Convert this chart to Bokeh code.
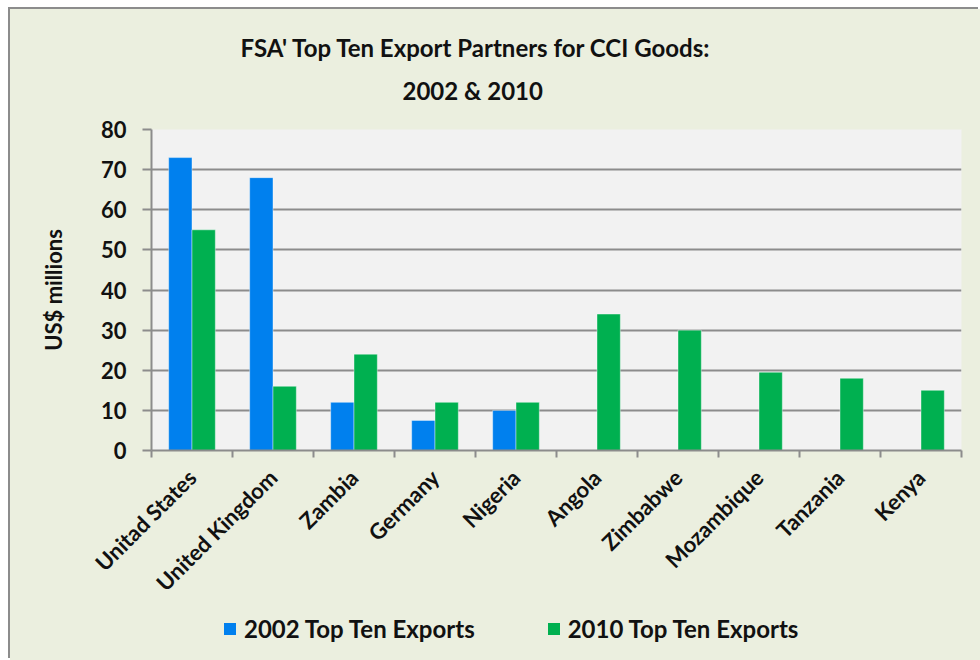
import math
import numpy as np
from bokeh.plotting import figure
from bokeh.layouts import column
from bokeh.models import (ColumnDataSource, Range1d, LinearAxis, FixedTicker, Legend,
                          LegendItem, Title)
from bokeh.embed import file_html
from bokeh.resources import INLINE

countries = ["Unitad States", "United Kingdom", "Zambia", "Germany", "Nigeria",
             "Angola", "Zimbabwe", "Mozambique", "Tanzania", "Kenya"]
exports_2002 = [73, 68, 12, 7.5, 10, 0, 0, 0, 0, 0]
exports_2010 = [55, 16, 24, 12, 12, 34, 30, 19.5, 18, 15]
y_ticks = [0, 10, 20, 30, 40, 50, 60, 70, 80]
series_names = ["2002 Top Ten Exports", "2010 Top Ten Exports"]
title_lines = ["FSA' Top Ten Export Partners for CCI Goods:", "2002 & 2010"]

FONT = "Lato"
GRID = "#8C8C8C"
BLUE = "#0080EE"
GREEN = "#00B050"
TXT = "#111111"
BG = "#EBEFDF"

n = len(countries)
centers = np.arange(n) + 0.5
bw = 0.288
src = ColumnDataSource(dict(xa=centers - bw / 2, xb=centers + bw / 2,
                            a=exports_2002, b=exports_2010))

p = figure(width=970, height=600, x_range=Range1d(0, n), y_range=Range1d(0, 80),
           output_backend="svg", toolbar_location=None, x_axis_location=None,
           min_border_left=141, min_border_right=19, min_border_top=120,
           min_border_bottom=159)
p.border_fill_color = BG
p.background_fill_color = "#F2F2F2"
p.outline_line_color = None
p.xgrid.visible = False
p.ygrid.grid_line_color = GRID
p.ygrid.grid_line_width = 2
p.ygrid.ticker = FixedTicker(ticks=y_ticks)

p.vbar(x="xa", top="a", width=bw, bottom=0, source=src, fill_color=BLUE,
       line_color="white", line_alpha=0.4, line_width=1)
p.vbar(x="xb", top="b", width=bw, bottom=0, source=src, fill_color=GREEN,
       line_color="white", line_alpha=0.4, line_width=1)

# y axis
ya = p.yaxis[0]
ya.ticker = FixedTicker(ticks=y_ticks)
ya.axis_line_color = GRID
ya.axis_line_width = 2
ya.major_tick_line_color = GRID
ya.major_tick_line_width = 2
ya.major_tick_out = 9
ya.major_tick_in = 0
ya.minor_tick_line_color = None
ya.major_label_text_font = FONT
ya.major_label_text_font_style = "bold"
ya.major_label_text_font_size = "22px"
ya.major_label_text_color = TXT
ya.major_label_standoff = 16
ya.axis_label = "US$ millions"
ya.axis_label_text_font = FONT
ya.axis_label_text_font_style = "bold"
ya.axis_label_text_font_size = "22px"
ya.axis_label_text_color = TXT
ya.axis_label_standoff = 31

# boundary ticks axis (no labels)
bounds = list(range(n + 1))
ta = LinearAxis(ticker=FixedTicker(ticks=bounds),
                major_label_overrides={i: "" for i in bounds},
                major_label_text_font_size="1px", major_label_standoff=0,
                axis_line_color=GRID, axis_line_width=2, major_tick_line_color=GRID,
                major_tick_line_width=2, major_tick_out=7, major_tick_in=0,
                minor_tick_line_color=None)
p.add_layout(ta, "below")

# category labels axis
ca = LinearAxis(ticker=FixedTicker(ticks=list(centers)),
                major_label_overrides={float(c): name for c, name in zip(centers, countries)},
                axis_line_color=None, major_tick_line_color=None, minor_tick_line_color=None,
                major_label_orientation=math.pi / 4, major_label_standoff=10,
                major_label_text_font=FONT, major_label_text_font_style="bold",
                major_label_text_font_size="22px", major_label_text_color=TXT)
p.add_layout(ca, "below")

p.add_layout(Title(text=title_lines[1], align="left", offset=251, standoff=50,
                   text_font=FONT, text_font_style="bold", text_font_size="24px",
                   text_color=TXT), "above")
p.add_layout(Title(text=title_lines[0], align="left", offset=89, standoff=-26,
                   text_font=FONT, text_font_style="bold", text_font_size="24px",
                   text_color=TXT), "above")

# legend strip
q = figure(width=970, height=51, x_range=Range1d(0, 1), y_range=Range1d(0, 1),
           output_backend="svg", toolbar_location=None, x_axis_location=None,
           y_axis_location=None, min_border=0)
q.border_fill_color = BG
q.background_fill_color = None
q.outline_line_color = None
q.grid.visible = False
leg_src = ColumnDataSource(dict(x=[float("nan")], top=[float("nan")]))
g1 = q.vbar(x="x", top="top", width=0.1, source=leg_src, fill_color=BLUE, line_color=None)
g2 = q.vbar(x="x", top="top", width=0.1, source=leg_src, fill_color=GREEN, line_color=None)
legend = Legend(items=[LegendItem(label=series_names[0], renderers=[g1]),
                       LegendItem(label=series_names[1], renderers=[g2])],
                orientation="horizontal", location=(71, 17), padding=0, margin=0,
                border_line_color=None, background_fill_alpha=0,
                glyph_width=15, glyph_height=15, label_standoff=7, spacing=71,
                label_height=30, label_text_font=FONT, label_text_font_style="bold",
                label_text_font_size="24px", label_text_color=TXT)
q.add_layout(legend)

layout = column(p, q, spacing=0)
layout.styles = {"margin": "9px 0 0 10px", "box-shadow": "-2px -2px 0 0 #8C8C8C",
                 "background-color": BG}

open("out.html", "w").write(file_html(layout, INLINE))
